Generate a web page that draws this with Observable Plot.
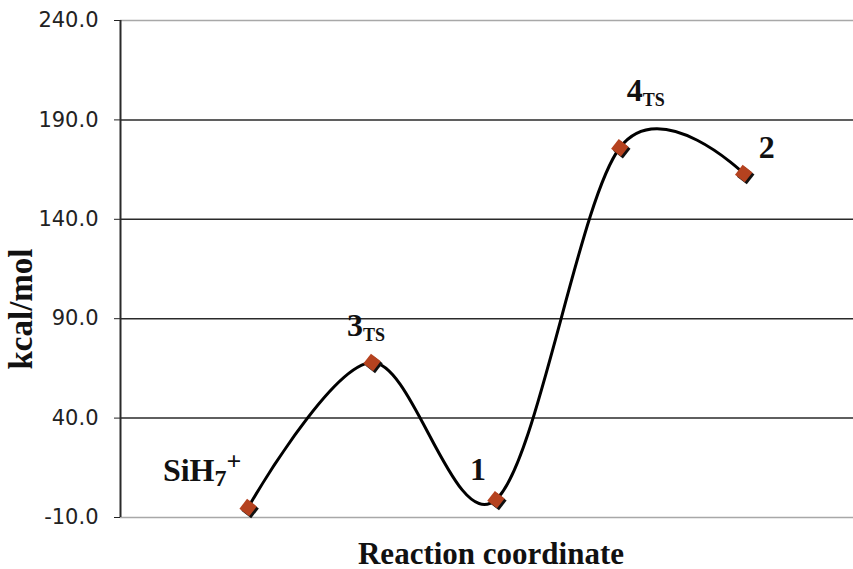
<!DOCTYPE html>
<html>
<head>
<meta charset="utf-8">
<script src="https://cdn.jsdelivr.net/npm/d3@7"></script>
<script src="https://cdn.jsdelivr.net/npm/@observablehq/plot@0.6"></script>
<style>
  html, body { margin: 0; padding: 0; background: #fff; }
  #chart { width: 853px; height: 569px; }
</style>
</head>
<body>
<div id="chart"></div>
<script>
// ---- data ----
const stages = ["SiH7+", "3TS", "1", "4TS", "2"];
const energies = [-5, 68, -1, 176, 163];          // kcal/mol
const labelMain = ["SiH", "3", "1", "4", "2"];
const labelSub = ["7", "TS", "", "TS", ""];
const labelSup = ["+", "", "", "", ""];
const yTicks = [-10, 40, 90, 140, 190, 240];
const gridDark = [40, 90, 140, 190];
const gridLight = [-10, 240];
const xTitle = "Reaction coordinate";
const yTitle = "kcal/mol";

const data = stages.map((s, i) => ({
  pos: i + 1, stage: s, e: energies[i],
  main: labelMain[i], sub: labelSub[i], sup: labelSup[i]
}));

// annotation offsets (px) for point labels
const labelDx = [-46, -6, -18, 26, 23];
const labelDy = [-27, -26, -20, -47, -16];

const serif = "'Liberation Serif', 'Times New Roman', serif";
const xDomain = [-0.03, 5.886];

const plot = Plot.plot({
  width: 853,
  height: 569,
  marginLeft: 120,
  marginRight: 0,
  marginTop: 20,
  marginBottom: 52,
  style: { fontFamily: "'DejaVu Sans', Verdana, sans-serif", fontSize: "20px", color: "#222", background: "#fff", overflow: "visible" },
  x: { domain: xDomain, axis: null },
  y: { domain: [-10, 240], ticks: yTicks, tickFormat: d => d.toFixed(1), tickSize: 6, tickPadding: 16, label: null },
  marks: [
    Plot.ruleY(gridLight, { stroke: "#a8a8a8", strokeWidth: 1.5 }),
    Plot.ruleY(gridDark, { stroke: "#2a2a2a", strokeWidth: 1.5 }),
    Plot.ruleX([xDomain[0]], { y1: -10, y2: 240, stroke: "#2a2a2a", strokeWidth: 2 }),
    Plot.line(data, { x: "pos", y: "e", curve: "cardinal", stroke: "#000", strokeWidth: 3 }),
    Plot.dot(data, { x: "pos", y: "e", symbol: "square", r: 7, rotate: 38, fill: "#111", dx: 2, dy: 2 }),
    Plot.dot(data, { x: "pos", y: "e", symbol: "square", r: 7, rotate: 38, fill: "#b5421f" }),
    Plot.text(data, {
      x: "pos", y: "e", text: "main",
      textAnchor: "middle", lineAnchor: "bottom",
      fontFamily: serif, fontWeight: "bold", fontSize: 32, fill: "#111"
    }),
    Plot.text([xTitle], {
      frameAnchor: "bottom", dx: 4, dy: 46, lineAnchor: "bottom",
      fontFamily: serif, fontWeight: "bold", fontSize: 31, fill: "#111"
    })
  ]
});

document.getElementById("chart").appendChild(plot);

// enlarge the y tick labels to match the reference
d3.select(plot).selectAll("text")
  .filter(function () { return /^[-−]?\d+\.0$/.test(this.textContent); })
  .style("font-size", "21px");

// y title as a rotated label
const svg = d3.select(plot);
svg.append("text")
  .attr("transform", "translate(32,309) rotate(-90)")
  .attr("text-anchor", "middle")
  .style("font-family", serif).style("font-weight", "bold").style("font-size", "33px").attr("fill", "#111")
  .text(yTitle);

// point labels: apply offsets and add sub/superscripts
const textGroups = plot.querySelectorAll('g[aria-label="text"]');
const labelTexts = textGroups[0].querySelectorAll("text");
labelTexts.forEach((t, i) => {
  const d = data[i];
  const tr = t.getAttribute("transform") || "";
  t.setAttribute("transform", (tr ? tr + " " : "") + `translate(${labelDx[i]},${labelDy[i]})`);
  if (d.sub || d.sup) {
    t.textContent = "";
    const sel = d3.select(t);
    sel.append("tspan").text(d.main);
    if (d.sub) sel.append("tspan").attr("dy", "5").style("font-size", d.sub === "TS" ? "18px" : "24px").text(d.sub);
    if (d.sup) sel.append("tspan").attr("dy", "-16").style("font-size", "26px").text(d.sup);
  }
});
</script>
</body>
</html>
